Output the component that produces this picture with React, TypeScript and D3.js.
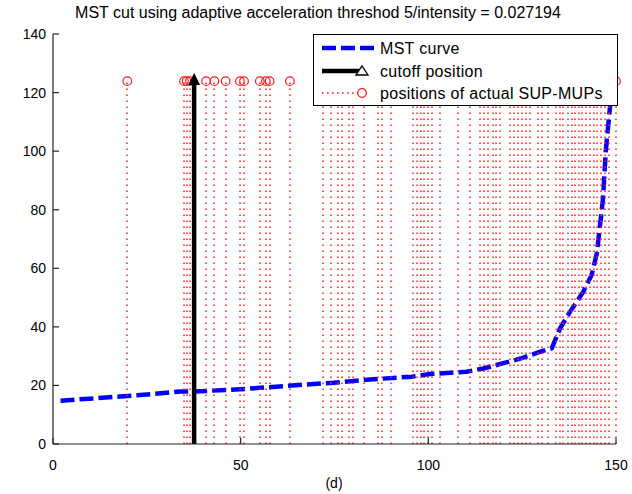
import React from "react";
import * as d3 from "d3";

const curveX = [2, 17.9, 23.2, 33.8, 37.4, 51.2, 61.8, 71.6, 74.7, 85.3, 95.6, 100.5, 110.2, 114.7, 120.0, 124.9, 129.8, 132.9, 135.1, 137.8, 141.3, 143.5, 144.9, 146.5, 147.3, 148.4, 149.3];
const curveY = [14.8, 16.2, 16.7, 17.9, 17.9, 18.8, 19.8, 20.7, 20.9, 22.1, 23.0, 23.9, 24.7, 25.8, 27.6, 29.3, 31.5, 32.7, 39.5, 45.2, 52.0, 57.7, 65.1, 83.3, 100.4, 115.1, 126];

const supMupX = [19.8, 34.9, 35.6, 36.5, 40.8, 43.0, 46.0, 49.8, 50.9, 55.1, 56.7, 57.7, 63.1, 71.9, 74.1, 75.8, 76.9, 78.9, 79.9, 82.9, 86.7, 87.7, 90.0, 95.8, 96.9, 98.0, 98.9, 100.0, 101.0, 103.1, 108.0, 111.1, 113.8, 114.9, 116.0, 117.1, 118.0, 119.0, 121.8, 122.8, 123.8, 124.9, 126.0, 127.1, 129.2, 130.2, 131.8, 133.9, 135.1, 136.0, 137.1, 138.2, 139.1, 140.2, 141.0, 142.0, 143.1, 144.2, 145.0, 146.0, 147.1, 148.1, 150.0];
const supMupY = 123.9;

const cutoffX = 37.6;
const cutoffTop = 126.7;

const xTicks = [0, 50, 100, 150];
const yTicks = [0, 20, 40, 60, 80, 100, 120, 140];

const titleText = "MST cut using adaptive acceleration threshod 5/intensity = 0.027194";
const xLabel = "(d)";
const legendLabels = ["MST curve", "cutoff position", "positions of actual SUP-MUPs"];

export default function App() {
  const W = 632, H = 494;
  const x = d3.scaleLinear().domain([0, 150]).range([53, 616]);
  const y = d3.scaleLinear().domain([0, 140]).range([444, 34]);
  const line = d3.line<number>().x((_, i) => x(curveX[i])).y((_, i) => y(curveY[i]));
  const path = line(curveX) || "";
  const font = "'Liberation Sans', Arial, sans-serif";
  const ax = x(cutoffX);
  const headBase = y(cutoffTop) + 12;
  const lg = { x0: 313, y0: 34, x1: 617, y1: 105 };
  const rows = [48, 71, 93];
  const px = (v: number) => Math.round(x(v));
  const red = "#ff1a1a";
  return (
    <svg width={W} height={H} style={{ position: "absolute", left: 0, top: 0, background: "#fff" }} fontFamily={font}>
      <rect x={0} y={0} width={W} height={H} fill="#fff" />
      {/* curve */}
      <path d={path} fill="none" stroke="#0000ff" strokeWidth={4.5} strokeDasharray="14 5" />
      {/* red dotted lines */}
      {supMupX.map((v, i) => (
        <line key={"l" + i} x1={px(v)} x2={px(v)} y1={Math.round(y(0))} y2={Math.round(y(supMupY))} stroke={red} strokeWidth={1.5} strokeDasharray="1.6 4.4" />
      ))}
      {supMupX.map((v, i) => (
        <circle key={"c" + i} cx={x(v)} cy={y(supMupY)} r={4.3} fill="none" stroke={red} strokeWidth={1.2} />
      ))}
      {/* cutoff arrow */}
      <line x1={ax} x2={ax} y1={y(0)} y2={headBase} stroke="#000" strokeWidth={4.5} />
      <path d={`M${ax - 6},${headBase} L${ax + 6},${headBase} L${ax},${y(cutoffTop)} Z`} fill="#000" />
      {/* axes */}
      <line x1={x(0)} x2={x(150)} y1={y(0)} y2={y(0)} stroke="#222" strokeWidth={1.2} />
      <line x1={x(0)} x2={x(0)} y1={y(0)} y2={y(140)} stroke="#222" strokeWidth={1.2} />
      {xTicks.map((t) => (
        <g key={"xt" + t}>
          <line x1={x(t)} x2={x(t)} y1={y(0)} y2={y(0) - 6} stroke="#222" strokeWidth={1.2} />
          <text x={x(t)} y={470} fontSize={14} textAnchor="middle" fill="#000">{t}</text>
        </g>
      ))}
      {yTicks.map((t) => (
        <g key={"yt" + t}>
          <line x1={x(0)} x2={x(0) + 6} y1={y(t)} y2={y(t)} stroke="#222" strokeWidth={1.2} />
          <text x={46} y={y(t) + 5} fontSize={14} textAnchor="end" fill="#000">{t}</text>
        </g>
      ))}
      <text x={334} y={488} fontSize={14} textAnchor="middle" fill="#000">{xLabel}</text>
      <text x={318} y={18} fontSize={16} textAnchor="middle" fill="#000">{titleText}</text>
      {/* legend */}
      <rect x={lg.x0 + 0.5} y={lg.y0 + 0.5} width={lg.x1 - lg.x0} height={lg.y1 - lg.y0} fill="#fff" stroke="#000" strokeWidth={1} />
      <line x1={322} x2={375} y1={rows[0]} y2={rows[0]} stroke="#0000ff" strokeWidth={4.5} strokeDasharray="14 5" />
      <line x1={322} x2={360} y1={rows[1]} y2={rows[1]} stroke="#000" strokeWidth={4.5} />
      <path d={`M${356},${rows[1] + 4} L${368},${rows[1] + 4} L${362},${rows[1] - 5} Z`} fill="#fff" stroke="#000" strokeWidth={1.3} />
      <line x1={322} x2={362} y1={rows[2]} y2={rows[2]} stroke={red} strokeWidth={1.5} strokeDasharray="1.6 3.4" />
      <circle cx={362} cy={rows[2]} r={4.3} fill="#fff" stroke={red} strokeWidth={1.3} />
      {legendLabels.map((s, i) => (
        <text key={s} x={380} y={rows[i] + 6} fontSize={16} letterSpacing={0.3} fill="#000">{s}</text>
      ))}
    </svg>
  );
}
